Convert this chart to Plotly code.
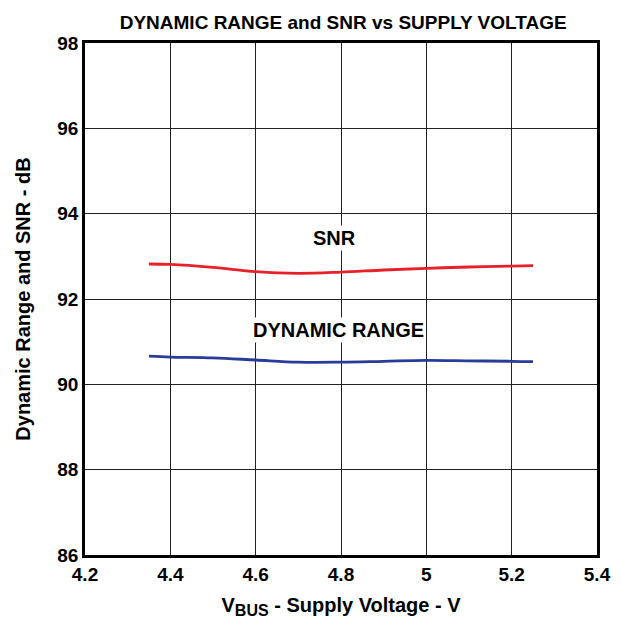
import plotly.graph_objects as go

voltage = [4.35, 4.4, 4.5, 4.6, 4.7, 4.8, 4.9, 5.0, 5.1, 5.2, 5.25]
snr = [92.82, 92.81, 92.74, 92.64, 92.60, 92.63, 92.68, 92.72, 92.75, 92.77, 92.78]
dyn_range = [90.66, 90.64, 90.62, 90.57, 90.52, 90.52, 90.54, 90.56, 90.55, 90.54, 90.53]

x_ticks = [4.2, 4.4, 4.6, 4.8, 5.0, 5.2, 5.4]
x_tick_text = ["4.2", "4.4", "4.6", "4.8", "5", "5.2", "5.4"]
y_ticks = [86, 88, 90, 92, 94, 96, 98]

font_family = "Liberation Sans, Arial, sans-serif"

fig = go.Figure()
fig.add_trace(go.Scatter(x=voltage, y=snr, mode="lines", line=dict(color="#e8202a", width=2.8, shape="spline"), name="SNR"))
fig.add_trace(go.Scatter(x=voltage, y=dyn_range, mode="lines", line=dict(color="#283c9a", width=2.8, shape="spline"), name="DYNAMIC RANGE"))

fig.add_annotation(x=4.785, y=93.43, text="<b>SNR</b>", showarrow=False, bgcolor="white",
                   font=dict(family=font_family, size=20, color="black"))
fig.add_annotation(x=4.795, y=91.27, text="<b>DYNAMIC RANGE</b>", showarrow=False, bgcolor="white",
                   font=dict(family=font_family, size=20, color="black"))

axis_common = dict(showgrid=True, gridcolor="#222222", gridwidth=1, showline=True, linecolor="black",
                   linewidth=2.5, mirror=True, ticks="", zeroline=False,
                   tickfont=dict(family=font_family, size=19, color="black"))

fig.update_layout(
    width=615, height=618,
    margin=dict(l=77, r=26, t=35, b=71),
    plot_bgcolor="white", paper_bgcolor="white",
    showlegend=False,
    title=dict(text="<b>DYNAMIC RANGE and SNR vs SUPPLY VOLTAGE</b>", x=0.545, xanchor="center",
               y=0.988, yanchor="top", font=dict(family=font_family, size=19, color="black")),
    xaxis=dict(range=[4.2, 5.4], tickvals=x_ticks, ticktext=[f"<b>{t}</b>" for t in x_tick_text],
               title=dict(text="<b>V<sub><span style='font-size:16px'>BUS</span></sub> - Supply Voltage - V</b>", standoff=15,
                          font=dict(family=font_family, size=20, color="black")), **axis_common),
    yaxis=dict(range=[86, 98], tickvals=y_ticks, ticktext=[f"<b>{t}</b>" for t in y_ticks],
               title=dict(text="<b>Dynamic Range and SNR - dB</b>", standoff=22,
                          font=dict(family=font_family, size=20, color="black")), **axis_common),
)

fig.write_html("out.html")
